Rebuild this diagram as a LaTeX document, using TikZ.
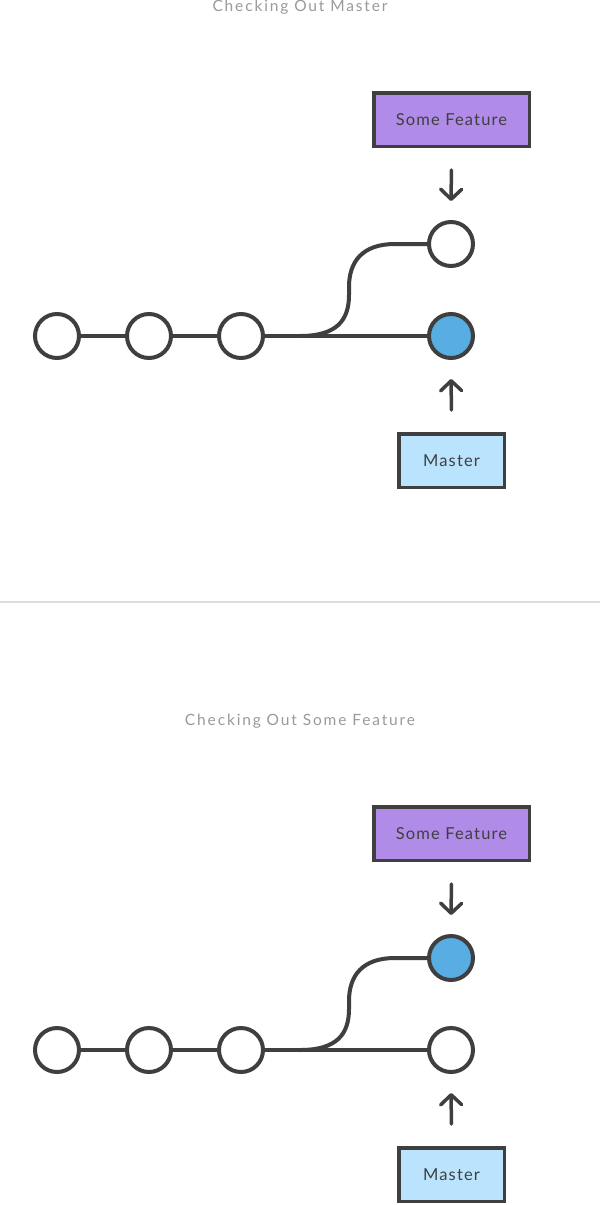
\documentclass[tikz,border=0pt]{standalone}
\usepackage{fontspec}
\setmainfont{Lato}
\usetikzlibrary{arrows.meta}
\definecolor{ink}{HTML}{3F3F3F}
\definecolor{titlegray}{HTML}{9A9A9A}
\definecolor{featpurple}{HTML}{B08BE8}
\definecolor{mastblue}{HTML}{BAE4FE}
\definecolor{headblue}{HTML}{58AEE2}
\definecolor{sepgray}{HTML}{DDDDDD}
\tikzset{
  commit/.style={circle, draw=ink, line width=4pt, fill=white, minimum size=44pt, inner sep=0pt},
  head/.style={commit, fill=headblue},
  branchbox/.style={rectangle, draw=ink, line width=3.5pt, minimum height=53.5pt, inner sep=0pt,
    font=\fontsize{16.5pt}{18pt}\selectfont\addfontfeatures{LetterSpace=7}, text=ink},
  featbox/.style={branchbox, fill=featpurple, minimum width=155.5pt},
  mastbox/.style={branchbox, fill=mastblue, minimum width=105.5pt},
  edge/.style={draw=ink, line width=4pt},
  ptr/.style={draw=ink, line width=3.5pt, line cap=round, line join=round,
    -{Straight Barb[length=10pt,width=21pt,line cap=round,line join=round]}},
  ttl/.style={text=titlegray, font=\fontsize{15.5pt}{17pt}\selectfont\addfontfeatures{LetterSpace=12}}
}
\begin{document}
\begin{tikzpicture}[x=1pt,y=-1pt]
\fill[white] (0,0) rectangle (600,1205);
\useasboundingbox (0,0) rectangle (600,1205);

% ---------- panel 1 ----------
\node[ttl] (t1) at (300,7) {Checking Out Master};
\node[featbox] (f1) at (451.5,119.5) {Some Feature};
\node[mastbox] (m1) at (451.5,460.5) {Master};
\node[commit] (a1) at (57,336) {};
\node[commit] (b1) at (149,336) {};
\node[commit] (c1) at (241,336) {};
\node[commit] (d1) at (451,244) {};
\node[head] (e1) at (451,336) {};
\coordinate (br1) at (300,336);
\draw[edge] (a1) -- (b1);
\draw[edge] (b1) -- (c1);
\draw[edge] (c1) -- (e1);
\draw[edge] (br1) .. controls (337,336) and (349,320) .. (349,295)
  -- (349,287) .. controls (349,262) and (362,244) .. (395,244) -- (d1.west);
\draw[ptr, shorten <=22pt, shorten >=19pt] (f1.south) -- (d1.north);
\draw[ptr, shorten <=22pt, shorten >=19pt] (m1.north) -- (e1.south);

% separator
\coordinate (sl) at (0,602);
\coordinate (sr) at (600,602);
\draw[sepgray, line width=1.5pt] (sl) -- (sr);

% ---------- panel 2 ----------
\begin{scope}[shift={(0,714)}]
\node[ttl] (t2) at (300,7) {Checking Out Some Feature};
\node[featbox] (f2) at (451.5,119.5) {Some Feature};
\node[mastbox] (m2) at (451.5,460.5) {Master};
\node[commit] (a2) at (57,336) {};
\node[commit] (b2) at (149,336) {};
\node[commit] (c2) at (241,336) {};
\node[head] (d2) at (451,244) {};
\node[commit] (e2) at (451,336) {};
\coordinate (br2) at (300,336);
\draw[edge] (a2) -- (b2);
\draw[edge] (b2) -- (c2);
\draw[edge] (c2) -- (e2);
\draw[edge] (br2) .. controls (337,336) and (349,320) .. (349,295)
  -- (349,287) .. controls (349,262) and (362,244) .. (395,244) -- (d2.west);
\draw[ptr, shorten <=22pt, shorten >=19pt] (f2.south) -- (d2.north);
\draw[ptr, shorten <=22pt, shorten >=19pt] (m2.north) -- (e2.south);
\end{scope}
\end{tikzpicture}
\end{document}
